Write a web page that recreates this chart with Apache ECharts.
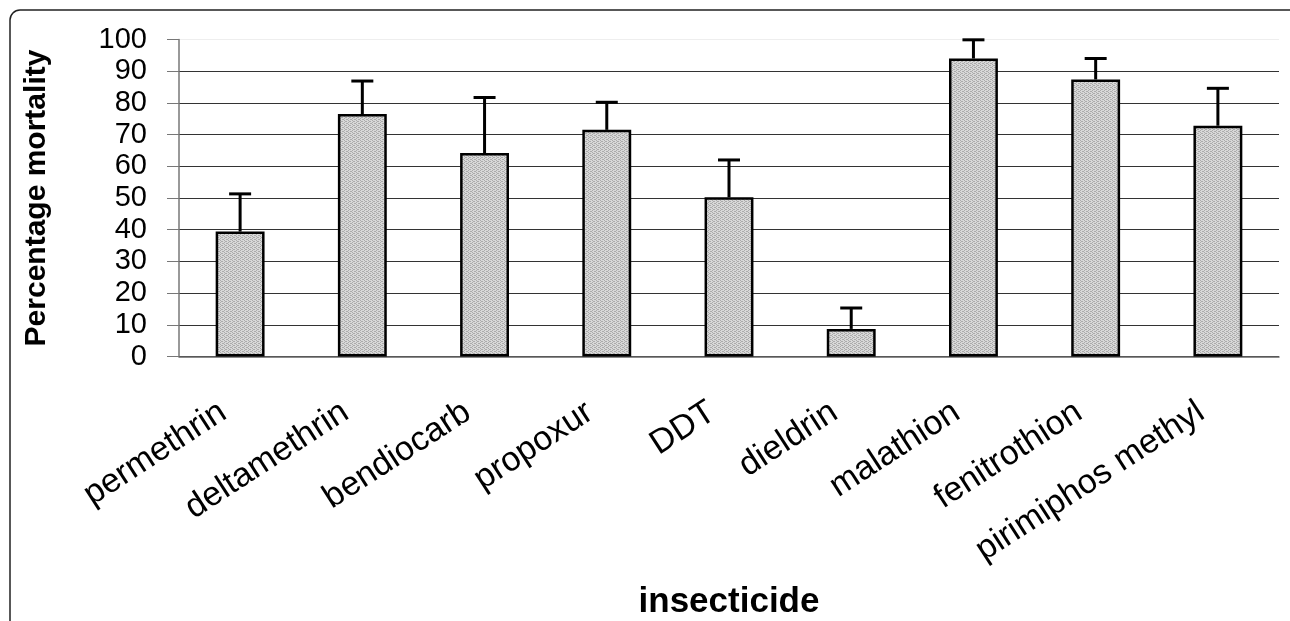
<!DOCTYPE html>
<html>
<head>
<meta charset="utf-8">
<script src="https://cdn.jsdelivr.net/npm/echarts@6/dist/echarts.min.js"></script>
<style>
  html, body { margin: 0; padding: 0; background: #fff; }
  #chart { width: 1290px; height: 621px; }
</style>
</head>
<body>
<div id="chart"></div>
<script>
// insecticides tested
var insecticides = ["permethrin", "deltamethrin", "bendiocarb", "propoxur", "DDT",
  "dieldrin", "malathion", "fenitrothion", "pirimiphos methyl"];
// mean percentage mortality
var mortality = [39.4, 76.5, 64.2, 71.5, 50.2, 8.7, 94.0, 87.4, 72.8];
// upper error (added on top of the bar)
var errUp = [11.9, 10.4, 17.5, 8.7, 11.8, 6.6, 5.9, 6.6, 11.8];
var yTicks = [0, 100, 10];

// little dotted grey texture like the old excel fill
function makePattern() {
  var c = document.createElement("canvas");
  c.width = 4;
  c.height = 4;
  var ctx = c.getContext("2d");
  ctx.fillStyle = "#d8d8d8";
  ctx.fillRect(0, 0, 4, 4);
  ctx.fillStyle = "#ababab";
  ctx.fillRect(0, 0, 1, 1);
  ctx.fillRect(2, 1, 1, 1);
  ctx.fillRect(0, 2, 1, 1);
  ctx.fillRect(2, 3, 1, 1);
  ctx.fillRect(1, 1, 1, 1);
  ctx.fillRect(3, 3, 1, 1);
  return c;
}

var gridColors = [];
for (var i = 0; i < 10; i++) gridColors.push("#333");
gridColors.push("#eeeeee");

var chart = echarts.init(document.getElementById("chart"));
chart.setOption({
  animation: false,
  backgroundColor: "#fff",
  grid: { left: 179, right: 11, top: 39.5, bottom: 264.5, outerBoundsMode: "none", containLabel: false },
  graphic: [
    {
      type: "rect",
      shape: { x: 10, y: 10, width: 1400, height: 800, r: 10 },
      style: { fill: null, stroke: "#222", lineWidth: 1.5 },
      silent: true
    }
  ],
  xAxis: {
    type: "category",
    data: insecticides,
    name: "insecticide",
    nameLocation: "middle",
    nameGap: 228,
    nameMoveOverlap: false,
    nameTextStyle: {
      fontFamily: "Liberation Sans",
      fontWeight: "bold",
      fontSize: 35,
      color: "#000"
    },
    axisLine: { lineStyle: { color: "#666", width: 1.5 } },
    axisTick: { length: 9, lineStyle: { color: "#555", width: 1.5 } },
    axisLabel: {
      rotate: 33,
      margin: 42,
      padding: [0, 20, 0, 0],
      interval: 0,
      fontFamily: "Liberation Sans",
      fontSize: 34,
      color: "#000"
    }
  },
  yAxis: {
    type: "value",
    min: yTicks[0],
    max: yTicks[1],
    interval: yTicks[2],
    name: "Percentage mortality",
    nameLocation: "middle",
    nameRotate: 90,
    nameGap: 127,
    nameTextStyle: {
      fontFamily: "Liberation Sans",
      fontWeight: "bold",
      fontSize: 30,
      color: "#000"
    },
    axisLine: { show: true, lineStyle: { color: "#777", width: 1.5 } },
    axisTick: { show: true, inside: false, length: 12, lineStyle: { color: "#777" } },
    axisLabel: {
      margin: 32,
      fontFamily: "Liberation Sans",
      fontSize: 29,
      color: "#000"
    },
    splitLine: { lineStyle: { color: gridColors, width: 1.2 } }
  },
  series: [
    {
      type: "bar",
      data: mortality,
      barWidth: "40%",
      itemStyle: {
        color: { image: makePattern(), repeat: "repeat" },
        borderColor: "#000",
        borderWidth: 2.5
      },
      z: 2
    },
    {
      type: "custom",
      z: 3,
      data: mortality.map(function (v, i) { return [i, v, v + errUp[i]]; }),
      renderItem: function (params, api) {
        var base = api.coord([api.value(0), api.value(1)]);
        var top = api.coord([api.value(0), api.value(2)]);
        var half = 11;
        var st = { stroke: "#000", lineWidth: 3 };
        return {
          type: "group",
          children: [
            { type: "line", shape: { x1: base[0], y1: base[1], x2: top[0], y2: top[1] }, style: st },
            { type: "line", shape: { x1: top[0] - half, y1: top[1], x2: top[0] + half, y2: top[1] }, style: st }
          ]
        };
      }
    }
  ]
});
</script>
</body>
</html>
